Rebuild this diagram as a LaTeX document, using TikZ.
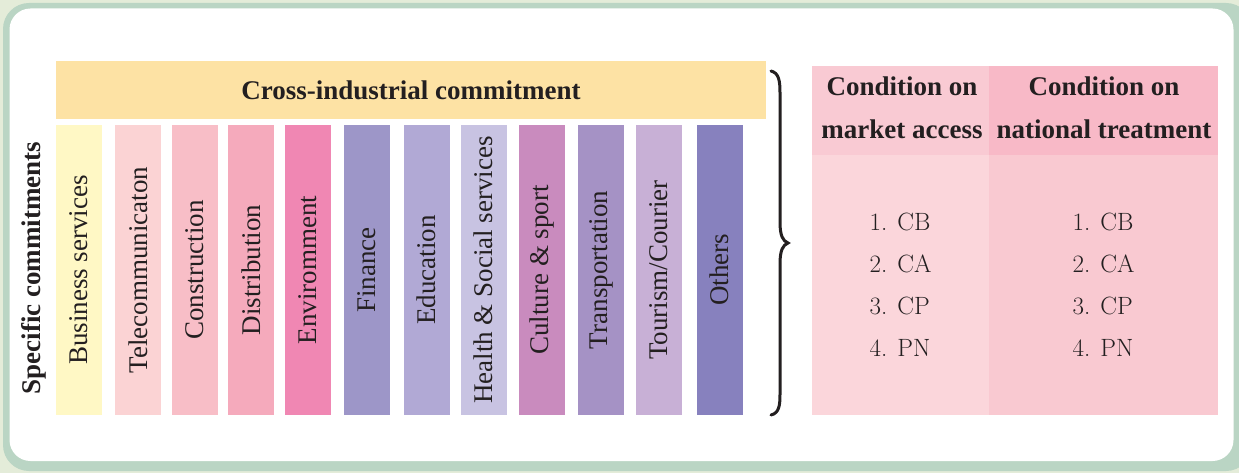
\documentclass[tikz,border=0pt]{standalone}
\usepackage{fontspec}
\newfontfamily\tnr{Liberation Serif}
\newfontfamily\lmr{Latin Modern Roman}
\definecolor{bgout}{HTML}{E4ECD9}
\definecolor{framec}{HTML}{BAD5C4}
\definecolor{txt}{HTML}{231F20}
\definecolor{crossc}{HTML}{FDE2A4}
\definecolor{ca}{HTML}{FFF8C5}
\definecolor{cb}{HTML}{FBD3D4}
\definecolor{cc}{HTML}{F8BEC7}
\definecolor{cd}{HTML}{F5AABC}
\definecolor{ce}{HTML}{F087B3}
\definecolor{cf}{HTML}{9D96C8}
\definecolor{cg}{HTML}{B1A9D5}
\definecolor{ch}{HTML}{C8C3E2}
\definecolor{ci}{HTML}{C98BBE}
\definecolor{cj}{HTML}{A592C5}
\definecolor{ck}{HTML}{C8B0D6}
\definecolor{cl}{HTML}{8781BE}
\definecolor{hleft}{HTML}{F9CAD3}
\definecolor{hright}{HTML}{F8B9C7}
\definecolor{bleft}{HTML}{FBD6DB}
\definecolor{bright}{HTML}{F9C9D1}
\tikzset{
  colbox/.style={rotate=90, minimum width=290pt, minimum height=46pt, inner sep=0pt,
    text=txt, font=\tnr\fontsize{27}{30}\selectfont},
  boldlbl/.style={text=txt, inner sep=0pt, font=\tnr\bfseries\fontsize{27}{30}\selectfont},
  headcell/.style={minimum height=89pt, inner sep=0pt, text=txt},
  headtext/.style={align=center, inner sep=0pt, text=txt,
    font=\tnr\bfseries\fontsize{27}{43}\selectfont},
  bodycell/.style={minimum height=260pt, inner sep=0pt, align=left, text=txt,
    font=\lmr\fontsize{25}{42}\selectfont},
  bracestyle/.style={line width=3pt, txt, line cap=round}
}
\begin{document}
\begin{tikzpicture}[x=1pt,y=-1pt]
\clip (0,0) rectangle (1239,473);
\fill[bgout] (0,0) rectangle (1239,473);
\fill[framec, rounded corners=26pt] (3,3) rectangle (1252,471);
\fill[white, rounded corners=21pt] (9.5,8.5) rectangle (1233.5,461);

% cross-industrial bar
\node[boldlbl, fill=crossc, minimum width=710pt, minimum height=58pt] (cross) at (411,90) {Cross-industrial commitment};

% side label
\node[boldlbl, rotate=90] (spec) at (34,268) {Specific commitments};

% columns
\node[colbox, fill=ca] (c1) at (79,270) {Business services};
\node[colbox, fill=cb] (c2) at (138,270) {Telecommunicaton};
\node[colbox, fill=cc] (c3) at (195,270) {Construction};
\node[colbox, fill=cd] (c4) at (251,270) {Distribution};
\node[colbox, fill=ce] (c5) at (308,270) {Enviromment};
\node[colbox, fill=cf] (c6) at (367,270) {Finance};
\node[colbox, fill=cg] (c7) at (426.5,270) {Education};
\node[colbox, fill=ch] (c8) at (483.5,270) {Health \& Social services};
\node[colbox, fill=ci] (c9) at (542,270) {Culture \& sport};
\node[colbox, fill=cj] (c10) at (601,270) {Transportation};
\node[colbox, fill=ck] (c11) at (659,270) {Tourism/Courier};
\node[colbox, fill=cl] (c12) at (719.5,270) {Others};

% brace
\draw[bracestyle] (771,71) .. controls (779,73) and (780,81) .. (780,93) -- (780,222)
  .. controls (780,236) and (783,241) .. (788,243)
  .. controls (783,245) and (780,250) .. (780,264) -- (780,394)
  .. controls (780,406) and (779,413) .. (771,415);

% right table
\node[headcell, fill=hleft, minimum width=177pt] (h1) at (900.5,110.5) {};
\node[headcell, fill=hright, minimum width=229pt] (h2) at (1103.5,110.5) {};
\node[headtext] (h1t) at (902,108) {Condition on\\market access};
\node[headtext] (h2t) at (1104,108) {Condition on\\national treatment};
\node[bodycell, fill=bleft, minimum width=177pt] (b1) at (900.5,285) {1. CB\\2. CA\\3. CP\\4. PN};
\node[bodycell, fill=bright, minimum width=229pt] (b2) at (1103.5,285) {1. CB\\2. CA\\3. CP\\4. PN};
\end{tikzpicture}
\end{document}
